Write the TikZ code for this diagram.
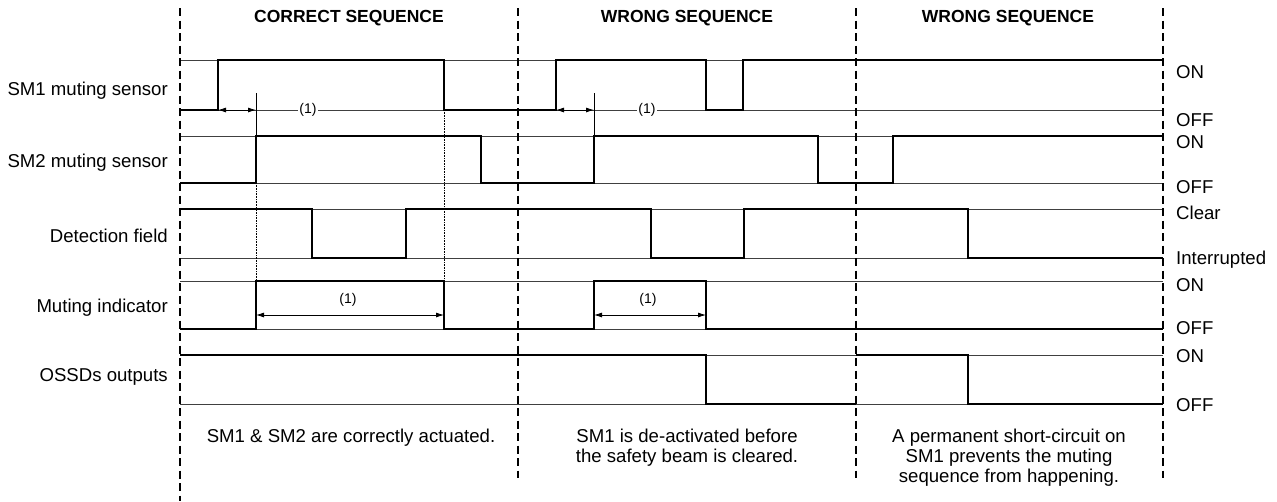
\documentclass[tikz,border=0pt]{standalone}
\usepackage{fontspec}
\setmainfont{Liberation Sans}
\usetikzlibrary{arrows.meta}

\tikzset{
  signal/.style={line width=2.6pt},
  level/.style={line width=0.8pt, black!75},
  divider/.style={line width=1.5pt, dash pattern=on 8pt off 4.5pt},
  guide/.style={line width=0.6pt, densely dotted},
  tickline/.style={line width=0.8pt},
  dimline/.style={line width=0.8pt, {Latex[length=8pt,width=5pt]}-{Latex[length=8pt,width=5pt]}},
  rowlabel/.style={anchor=east, inner sep=0pt, font=\fontsize{18.6}{22}\selectfont},
  statelabel/.style={anchor=west, inner sep=0pt, font=\fontsize{18.6}{22}\selectfont},
  seqtitle/.style={font=\fontsize{17.5}{21}\selectfont\bfseries},
  note/.style={align=center, anchor=north, inner sep=0pt, font=\fontsize{18.6}{20}\selectfont},
  dimtext/.style={font=\fontsize{14}{16}\selectfont, inner sep=1.5pt}
}

\begin{document}
\begin{tikzpicture}[x=1pt, y=-1pt]
  \useasboundingbox (0,0) rectangle (1277,501);

  % Reference levels of each row (high / low)
  \foreach \hi/\lo in {60/110, 136/183, 209/258, 281/329, 355/404} {
    \draw[level] (180,\hi) -- (1163,\hi);
    \draw[level] (180,\lo) -- (1163,\lo);
  }

  % Guides for the timing marks
  \draw[tickline] (256,93) -- (256,136);
  \draw[tickline] (594,93) -- (594,136);
  \draw[guide] (256,183) -- (256,281);
  \draw[guide] (444,110) -- (444,281);

  % Waveforms
  \draw[signal] (180,110) -- (218,110) -- (218,60) -- (444,60) -- (444,110) -- (556,110)
    -- (556,60) -- (706,60) -- (706,110) -- (743,110) -- (743,60) -- (1163,60);
  \draw[signal] (180,183) -- (256,183) -- (256,136) -- (481,136) -- (481,183) -- (594,183)
    -- (594,136) -- (818,136) -- (818,183) -- (893,183) -- (893,136) -- (1163,136);
  \draw[signal] (180,209) -- (312,209) -- (312,258) -- (406,258) -- (406,209) -- (651,209)
    -- (651,258) -- (744,258) -- (744,209) -- (968,209) -- (968,258) -- (1163,258);
  \draw[signal] (180,329) -- (256,329) -- (256,281) -- (444,281) -- (444,329) -- (594,329)
    -- (594,281) -- (706,281) -- (706,329) -- (1163,329);
  \draw[signal] (180,355) -- (706,355) -- (706,404) -- (856,404);
  \draw[signal] (856,355) -- (968,355) -- (968,404) -- (1163,404);

  % Time windows (1)
  \draw[dimline] (218,110) -- (256,110);
  \node[dimtext, fill=white] (w1) at (308,110) {(1)};
  \draw[dimline] (556,110) -- (594,110);
  \node[dimtext, fill=white] (w2) at (647,110) {(1)};
  \draw[dimline] (256,315) -- (444,315);
  \node[dimtext] (w3) at (348,300) {(1)};
  \draw[dimline] (594,315) -- (706,315);
  \node[dimtext] (w4) at (648,300) {(1)};

  % Sequence dividers
  \draw[divider] (180,8) -- (180,501);
  \foreach \x in {518, 856, 1163}
    \draw[divider] (\x,8) -- (\x,478);

  % Titles
  \node[seqtitle] (t1) at (349,18) {CORRECT SEQUENCE};
  \node[seqtitle] (t2) at (687,18) {WRONG SEQUENCE};
  \node[seqtitle] (t3) at (1008,18) {WRONG SEQUENCE};

  % Row names
  \node[rowlabel] (sm1) at (168,91) {SM1 muting sensor};
  \node[rowlabel] (sm2) at (168,163) {SM2 muting sensor};
  \node[rowlabel] (det) at (168,236) {Detection field};
  \node[rowlabel] (mut) at (168,308) {Muting indicator};
  \node[rowlabel] (ossd) at (168,377) {OSSDs outputs};

  % States
  \foreach \y/\txt [count=\i] in {72/ON, 120/OFF, 142/ON, 187/OFF, 213/Clear,
      260/Interrupted, 285/ON, 328/OFF, 356/ON, 405/OFF}
    \node[statelabel] (s\i) at (1176,\y) {\txt};

  % Notes
  \node[note] (n1) at (351,429) {SM1 \& SM2 are correctly actuated.};
  \node[note] (n2) at (687,429) {SM1 is de-activated before\\the safety beam is cleared.};
  \node[note] (n3) at (1009,429) {A permanent short-circuit on\\SM1 prevents the muting\\sequence from happening.};
\end{tikzpicture}
\end{document}
